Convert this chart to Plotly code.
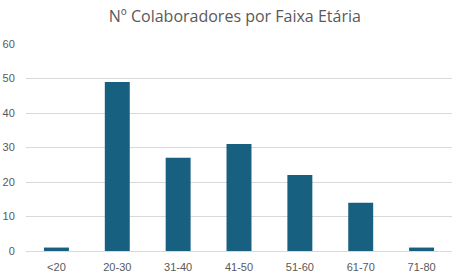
import plotly.graph_objects as go

categories = ["<20", "20-30", "31-40", "41-50", "51-60", "61-70", "71-80"]
values = [1, 49, 27, 31, 22, 14, 1]
y_ticks = [0, 10, 20, 30, 40, 50, 60]

fig = go.Figure(go.Bar(x=categories, y=values, marker=dict(color="#176080", line=dict(width=0))))

fig.update_layout(
    width=465, height=278,
    margin=dict(l=26, r=13, t=44, b=27),
    paper_bgcolor="white", plot_bgcolor="white",
    bargap=0.59,
    showlegend=False,
    title=dict(text="Nº Colaboradores por Faixa Etária", x=0.505, xanchor="center",
               y=0.94, yanchor="middle",
               font=dict(family="Open Sans", size=16, color="#595959")),
)
fig.update_xaxes(showgrid=False, showline=False, automargin=False,
                 ticks="outside", ticklen=6, tickcolor="rgba(0,0,0,0)",
                 tickfont=dict(family="Liberation Sans", size=11, color="#595959"))
fig.update_yaxes(range=[0, 60], tickvals=y_ticks, showgrid=True, gridcolor="#d9d9d9", gridwidth=1,
                 automargin=False,
                 zeroline=True, zerolinecolor="#d9d9d9", zerolinewidth=1,
                 ticks="outside", ticklen=8, tickcolor="rgba(0,0,0,0)",
                 tickfont=dict(family="Liberation Sans", size=11, color="#595959"))

fig.write_html("out.html")
